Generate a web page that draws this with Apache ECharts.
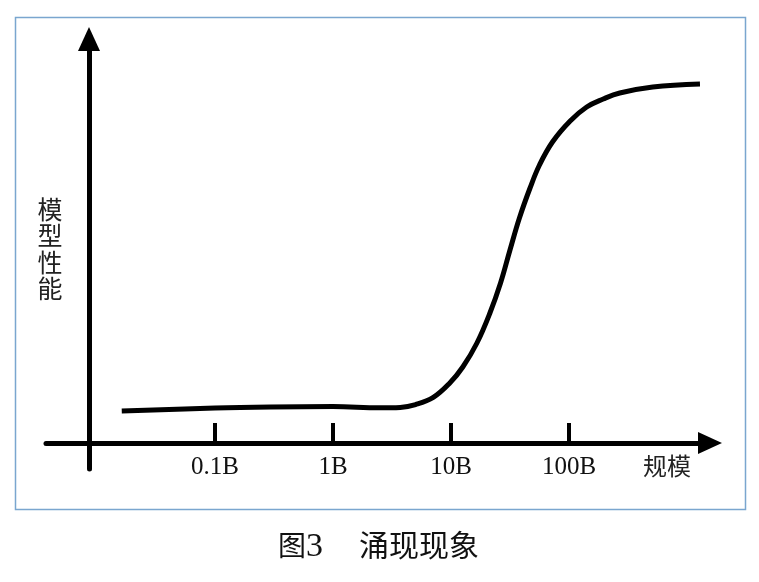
<!DOCTYPE html>
<html><head><meta charset="utf-8">
<script src="https://cdn.jsdelivr.net/npm/echarts@6/dist/echarts.min.js"></script>
<style>html,body{margin:0;padding:0;background:#fff}#c{width:759px;height:582px}</style>
</head><body><div id="c"></div>
<script>
// x: log10(model size in B); y: model performance (arbitrary units)
const tickValues = [-1, 0, 1, 2];
const tickLabels = ['0.1B', '1B', '10B', '100B'];
const scaleLog = [-1.79, -1.0, -0.53, 0.0, 0.40, 0.57, 0.70, 0.85, 0.99, 1.10, 1.22, 1.33, 1.42, 1.50, 1.58, 1.67, 1.75, 1.86, 2.01, 2.15, 2.29, 2.43, 2.71, 3.11];
const performance = [8.0, 8.75, 9.0, 9.1, 8.8, 8.9, 9.6, 11.4, 15.0, 19.0, 25.0, 32.5, 40.0, 48.25, 56.25, 63.75, 69.5, 75.25, 80.5, 84.0, 86.0, 87.5, 89.0, 89.75];
const xAxisName = '规模';
const yAxisName = '模型性能';
const captionFig = '图';
const captionNum = '3';
const captionText = '涌现现象';

const chart = echarts.init(document.getElementById('c'), null, {renderer: 'canvas'});
chart.setOption({
  animation: false,
  backgroundColor: '#fff',
  grid: {left: 46, right: 49, top: 39, bottom: 113},
  xAxis: {
    type: 'value', min: -2.432, max: 3.195, position: 'bottom', offset: -26,
    splitLine: {show: false},
    axisLine: {show: true, onZero: false, lineStyle: {color: '#000', width: 5},
      symbol: ['none', 'triangle'], symbolSize: [22, 24]},
    axisTick: {show: true, customValues: tickValues, inside: true, length: 20,
      lineStyle: {color: '#000', width: 4}},
    axisLabel: {show: true, customValues: tickValues,
      formatter: function (v) { const i = tickValues.indexOf(Math.round(v)); return i >= 0 ? tickLabels[i] : ''; },
      margin: 12, fontFamily: "'Liberation Serif', 'Times New Roman', serif", fontSize: 25, color: '#111'}
  },
  yAxis: {
    type: 'value', min: -6.5, max: 101, offset: -43,
    splitLine: {show: false},
    axisLine: {show: true, onZero: false, lineStyle: {color: '#000', width: 5},
      symbol: ['none', 'triangle'], symbolSize: [22, 24]},
    axisTick: {show: false},
    axisLabel: {show: false}
  },
  series: [{
    type: 'line',
    data: scaleLog.map(function (x, i) { return [x, performance[i]]; }),
    smooth: 0.4,
    showSymbol: false,
    lineStyle: {color: '#000', width: 5, cap: 'butt', join: 'round'}
  }],
  graphic: [
    {type: 'rect', z: -10, silent: true,
      shape: {x: 15.5, y: 17.5, width: 730, height: 492},
      style: {fill: 'none', stroke: '#7aa6cf', lineWidth: 1.5}},
    {type: 'text', x: 643, y: 466, silent: true,
      style: {text: xAxisName, font: "24px 'Noto Sans CJK SC'", fill: '#222', align: 'left', verticalAlign: 'middle'}},
    {type: 'text', x: 50, y: 249, silent: true,
      style: {text: yAxisName.split('').join('\n'), font: "25px 'Noto Sans CJK SC'", lineHeight: 26.5, fill: '#222', align: 'center', verticalAlign: 'middle'}},
    {type: 'text', x: 278, y: 545, silent: true,
      style: {text: captionFig, font: "28px 'Noto Sans CJK SC'", fill: '#111', align: 'left', verticalAlign: 'middle'}},
    {type: 'text', x: 306, y: 547, silent: true,
      style: {text: captionNum, font: "34px 'Liberation Serif'", fill: '#111', align: 'left', verticalAlign: 'middle'}},
    {type: 'text', x: 359, y: 545, silent: true,
      style: {text: captionText, font: "30px 'Noto Sans CJK SC'", fill: '#111', align: 'left', verticalAlign: 'middle'}}
  ]
});
</script>
</body></html>
